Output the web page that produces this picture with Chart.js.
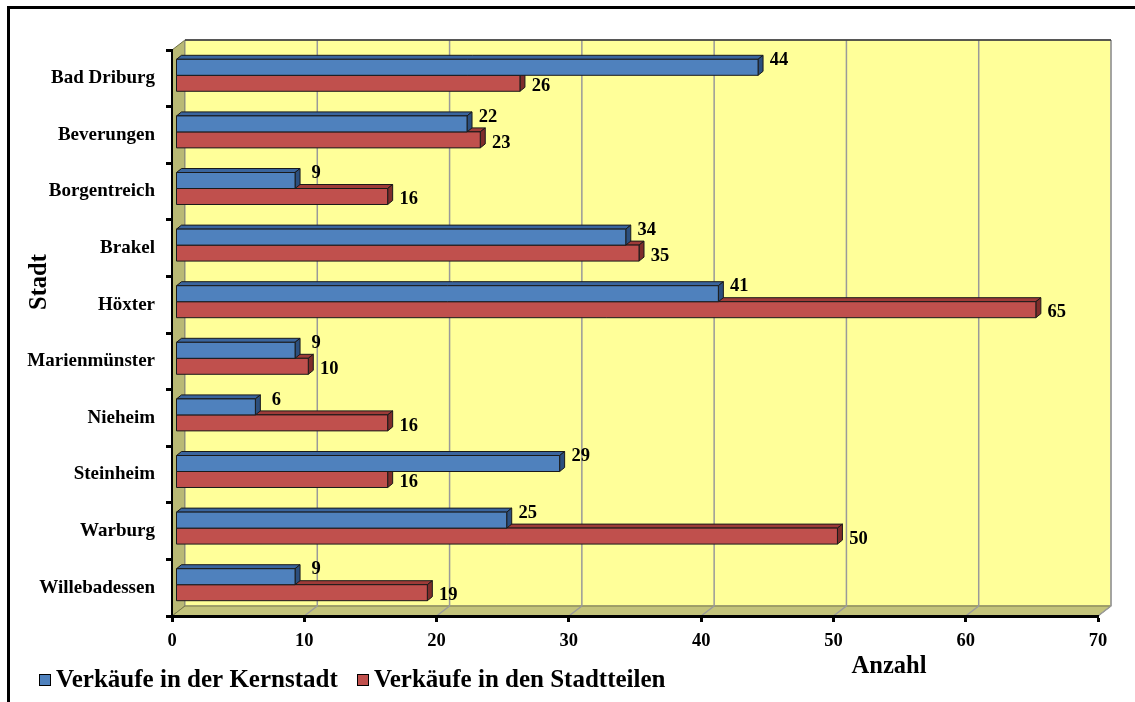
<!DOCTYPE html>
<html>
<head>
<meta charset="utf-8">
<script src="https://cdn.jsdelivr.net/npm/chart.js@4.4.1/dist/chart.umd.min.js"></script>
<style>
  html, body { margin: 0; padding: 0; background: #fff; }
</style>
</head>
<body>
<canvas id="chart" width="1135" height="702"></canvas>
<script>
// Daten
const staedte = ["Bad Driburg", "Beverungen", "Borgentreich", "Brakel", "Höxter",
                 "Marienmünster", "Nieheim", "Steinheim", "Warburg", "Willebadessen"];
const kernstadt = [44, 22, 9, 34, 41, 9, 6, 29, 25, 9];
const stadtteile = [26, 23, 16, 35, 65, 10, 16, 16, 50, 19];
const xMin = 0, xMax = 70, xStep = 10;

const SCHRIFT = '"Liberation Serif", "Times New Roman", serif';

// Farben (Front, Oberseite, Seite)
const farben = [
    { front: "#4F81BD", top: "#3A659E", side: "#2C4F7E" },
    { front: "#C0504D", top: "#9E3B38", side: "#7E2D2B" }
];

// Tiefe der Rückwand und der Balken
const WAND_DX = 13, WAND_DY = 10;
const BALKEN_DX = 5, BALKEN_DY = 4;
const VERSATZ_X = 4, VERSATZ_Y = -3;

function poly(ctx, pts, fill, stroke) {
    ctx.beginPath();
    ctx.moveTo(pts[0][0], pts[0][1]);
    for (let i = 1; i < pts.length; i++) ctx.lineTo(pts[i][0], pts[i][1]);
    ctx.closePath();
    if (fill) { ctx.fillStyle = fill; ctx.fill(); }
    if (stroke) { ctx.strokeStyle = stroke; ctx.lineWidth = 1; ctx.stroke(); }
}

const dreiD = {
    id: "dreiD",
    beforeDraw(chart) {
        const { ctx, chartArea: a, scales: { x } } = chart;
        ctx.save();
        // Rahmen
        ctx.strokeStyle = "#000";
        ctx.lineWidth = 3;
        ctx.strokeRect(8.5, 7.5, 1140, 700);

        // linke Wand
        poly(ctx, [[a.left, a.top], [a.left + WAND_DX, a.top - WAND_DY],
                   [a.left + WAND_DX, a.bottom - WAND_DY], [a.left, a.bottom]], "#B9B975", "#6f6f45");
        // Rückwand
        poly(ctx, [[a.left + WAND_DX, a.top - WAND_DY], [a.right + WAND_DX, a.top - WAND_DY],
                   [a.right + WAND_DX, a.bottom - WAND_DY], [a.left + WAND_DX, a.bottom - WAND_DY]], "#FFFF99", "#8c8c8c");
        // Boden
        poly(ctx, [[a.left, a.bottom], [a.left + WAND_DX, a.bottom - WAND_DY],
                   [a.right + WAND_DX, a.bottom - WAND_DY], [a.right, a.bottom]], "#C3C37B", "#7a7a4a");

        // Gitternetz
        ctx.strokeStyle = "#9a9a9a";
        ctx.lineWidth = 1.5;
        for (let v = xMin + xStep; v <= xMax; v += xStep) {
            const px = x.getPixelForValue(v);
            ctx.beginPath();
            ctx.moveTo(px + WAND_DX, a.top - WAND_DY);
            ctx.lineTo(px + WAND_DX, a.bottom - WAND_DY);
            ctx.lineTo(px, a.bottom);
            ctx.stroke();
        }
        // obere Kante der Rückwand
        ctx.strokeStyle = "#333";
        ctx.lineWidth = 1.5;
        ctx.beginPath();
        ctx.moveTo(a.left + WAND_DX, a.top - WAND_DY);
        ctx.lineTo(a.right + WAND_DX, a.top - WAND_DY);
        ctx.stroke();
        ctx.restore();
    },
    beforeDatasetsDraw(chart) {
        const ctx = chart.ctx;
        ctx.save();
        ctx.lineJoin = "round";
        [1, 0].forEach(di => {
            const f = farben[di];
            chart.getDatasetMeta(di).data.forEach(bar => {
                const x0 = bar.base + VERSATZ_X, x1 = bar.x + VERSATZ_X;
                const y0 = bar.y - bar.height / 2 + VERSATZ_Y, y1 = y0 + bar.height;
                poly(ctx, [[x0, y0], [x0 + BALKEN_DX, y0 - BALKEN_DY], [x1 + BALKEN_DX, y0 - BALKEN_DY], [x1, y0]], f.top, "#1a1a1a");
                poly(ctx, [[x1, y0], [x1 + BALKEN_DX, y0 - BALKEN_DY], [x1 + BALKEN_DX, y1 - BALKEN_DY], [x1, y1]], f.side, "#1a1a1a");
                poly(ctx, [[x0, y0], [x1, y0], [x1, y1], [x0, y1]], f.front, "#1a1a1a");
            });
        });
        ctx.restore();
        return false;
    },
    afterDraw(chart) {
        const ctx = chart.ctx;
        ctx.save();
        ctx.fillStyle = "#000";
        ctx.textBaseline = "middle";

        // Werte an den Balken
        ctx.font = "bold 18.5px " + SCHRIFT;
        ctx.textAlign = "center";
        chart.data.datasets.forEach((ds, di) => {
            chart.getDatasetMeta(di).data.forEach((bar, i) => {
                const dy = di === 0 ? -7 : 3;
                ctx.fillText(String(ds.data[i]), bar.x + VERSATZ_X + BALKEN_DX + 16, bar.y + VERSATZ_Y + dy);
            });
        });

        // Achsentitel
        ctx.font = "bold 24.5px " + SCHRIFT;
        ctx.fillText("Anzahl", 889, 667);
        ctx.save();
        ctx.translate(40, 282);
        ctx.rotate(-Math.PI / 2);
        ctx.fillText("Stadt", 0, 0);
        ctx.restore();

        // Legende
        ctx.font = "bold 25px " + SCHRIFT;
        ctx.textAlign = "left";
        const legX = [39, 357];
        chart.data.datasets.forEach((ds, di) => {
            ctx.fillStyle = farben[di].front;
            ctx.fillRect(legX[di] + 0.5, 674.5, 11, 11);
            ctx.strokeStyle = "#000";
            ctx.lineWidth = 1;
            ctx.strokeRect(legX[di] + 0.5, 674.5, 11, 11);
            ctx.fillStyle = "#000";
            ctx.fillText(ds.label, legX[di] + 17, 681);
        });
        ctx.restore();
    }
};

new Chart(document.getElementById("chart"), {
    type: "bar",
    data: {
        labels: staedte,
        datasets: [
            { label: "Verkäufe in der Kernstadt", data: kernstadt, backgroundColor: farben[0].front },
            { label: "Verkäufe in den Stadtteilen", data: stadtteile, backgroundColor: farben[1].front }
        ]
    },
    options: {
        indexAxis: "y",
        responsive: false,
        animation: false,
        layout: { padding: { left: 0, top: 50, right: 37, bottom: 0 } },
        datasets: { bar: { categoryPercentage: 0.565, barPercentage: 1 } },
        plugins: {
            legend: { display: false },
            tooltip: { enabled: false }
        },
        scales: {
            x: {
                min: xMin,
                max: xMax,
                ticks: { stepSize: xStep, color: "#000", padding: 8, font: { family: SCHRIFT, size: 18.5, weight: "bold" } },
                grid: { drawOnChartArea: false, tickLength: 6, tickWidth: 3, tickColor: "#000" },
                border: { display: true, color: "#000", width: 3 },
                afterFit(s) { s.height = 86; }
            },
            y: {
                ticks: { color: "#000", padding: 11, font: { family: SCHRIFT, size: 19, weight: "bold" } },
                grid: { offset: true, drawOnChartArea: false, tickLength: 6, tickWidth: 3, tickColor: "#000" },
                border: { display: true, color: "#000", width: 2 },
                afterFit(s) { s.width = 172; }
            }
        }
    },
    plugins: [dreiD]
});
</script>
</body>
</html>
